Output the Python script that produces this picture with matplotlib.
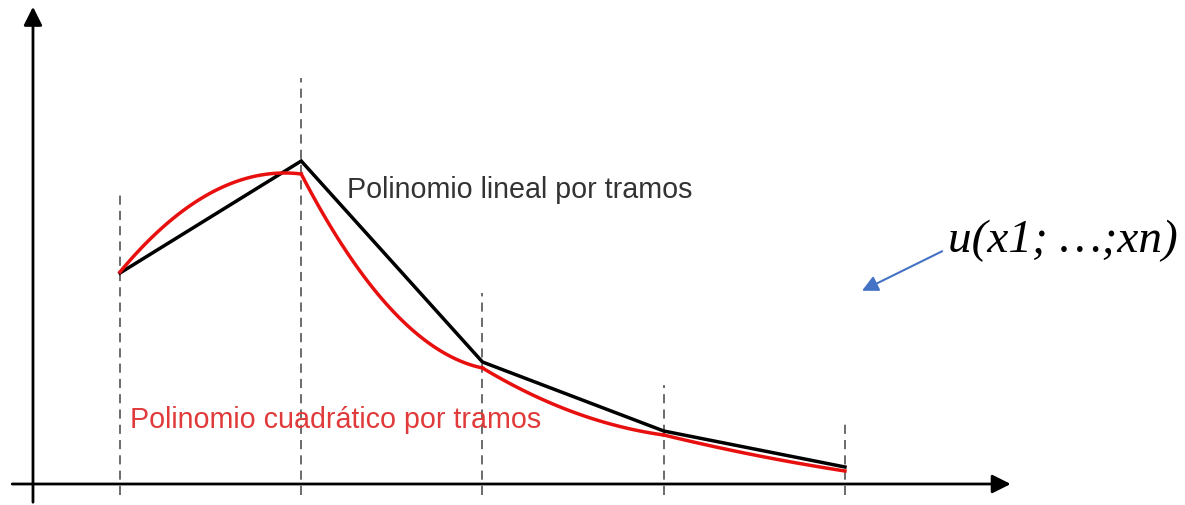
import numpy as np
import matplotlib
matplotlib.use('Agg')
from matplotlib import pyplot as plt

# nodos y valores
nodos = [1, 2, 3, 4, 5]
lineal = [2.11, 3.23, 1.22, 0.53, 0.17]
# cuadratico: valor en nodos y en el punto medio de cada tramo
cuad_nodos = [2.12, 3.10, 1.16, 0.49, 0.13]
cuad_medios = [2.91, 1.74, 0.72, 0.29]
# altura de las lineas discontinuas
alto_guias = [2.91, 4.06, 1.91, 0.99, 0.64]

fig = plt.figure(figsize=(11.85, 5.05), dpi=100)
ax = fig.add_axes([0, 0, 1, 1])
ax.set_xlim(0.338, 6.876)
ax.set_ylim(-0.21, 4.84)
ax.axis(False)

# ejes con flecha
ax.annotate('', xy=(5.93, 0), xytext=(0.39, 0),
            arrowprops=dict(arrowstyle='-|>', lw=2, color='black', mutation_scale=28))
ax.annotate('', xy=(0.52, 4.80), xytext=(0.52, -0.21),
            arrowprops=dict(arrowstyle='-|>', lw=2, color='black', mutation_scale=28))

# guias verticales
for x, h in zip(nodos, alto_guias):
    ax.plot([x, x], [-0.11, h], color='#444444', lw=1.1, dashes=(6, 4))

# polinomio lineal
ax.plot(nodos, lineal, color='black', lw=2.5, solid_joinstyle='miter')

# polinomio cuadratico por tramos
for i in range(len(nodos) - 1):
    xs = [nodos[i], nodos[i] + 0.5, nodos[i + 1]]
    ys = [cuad_nodos[i], cuad_medios[i], cuad_nodos[i + 1]]
    p = np.polyfit(xs, ys, 2)
    t = np.linspace(xs[0], xs[-1], 60)
    ax.plot(t, np.polyval(p, t), color='#e8100f', lw=2.5)

ax.text(2.25, 2.94, 'Polinomio lineal por tramos', color='#333333',
        family='Liberation Sans', fontsize=20.6, va='center', ha='left')
ax.text(1.055, 0.64, 'Polinomio cuadrático por tramos', color='#e03a3a',
        family='Liberation Sans', fontsize=20.6, va='center', ha='left')
ax.text(5.57, 2.43, 'u(x1; …;xn)', color='black', family='Liberation Serif',
        style='italic', fontsize=34, va='center', ha='left')
ax.annotate('', xy=(5.08, 1.92), xytext=(5.55, 2.34),
            arrowprops=dict(arrowstyle='-|>', lw=1.5, color='#4472c4', mutation_scale=24))

plt.savefig('out.png', dpi=100)
